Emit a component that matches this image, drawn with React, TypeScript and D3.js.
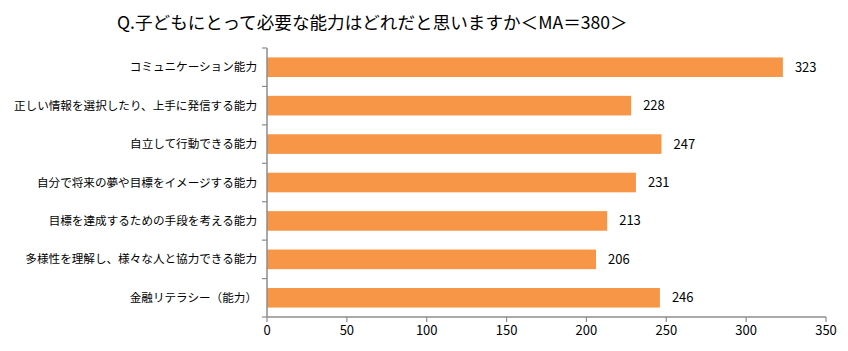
import React from "react";
import * as d3 from "d3";

const categories = [
  "コミュニケーション能力",
  "正しい情報を選択したり、上手に発信する能力",
  "自立して行動できる能力",
  "自分で将来の夢や目標をイメージする能力",
  "目標を達成するための手段を考える能力",
  "多様性を理解し、様々な人と協力できる能力",
  "金融リテラシー（能力）",
];
const values = [323, 228, 247, 231, 213, 206, 246];
const xTicks = [0, 50, 100, 150, 200, 250, 300, 350];
const title = "Q.子どもにとって必要な能力はどれだと思いますか＜MA＝380＞";

const W = 848;
const H = 351;
const left = 267;
const right = 826;
const top = 48;
const bottom = 317;
const font = "'Noto Sans CJK JP', 'Noto Sans', sans-serif";

export default function App() {
  const x = d3.scaleLinear().domain([0, 350]).range([left, right]);
  const y = d3
    .scaleBand<string>()
    .domain(categories)
    .range([top, bottom])
    .paddingInner(0.49)
    .paddingOuter(0.245);
  const band = (bottom - top) / categories.length;
  const axisColor = "#8c8c8c";
  return (
    <svg
      width={W}
      height={H}
      style={{ position: "absolute", left: 0, top: 0, background: "#fff" }}
      fontFamily={font}
    >
      <text x={117} y={29} fontSize={17.6} fill="#000">
        {title}
      </text>
      {categories.map((c, i) => (
        <g key={c}>
          <rect
            x={x(0)}
            y={y(c)!}
            width={x(values[i]) - x(0)}
            height={y.bandwidth()}
            fill="#F79646"
          />
          <text
            x={x(values[i]) + 12}
            y={y(c)! + y.bandwidth() / 2}
            dy="0.35em"
            fontSize={13}
            fill="#000"
          >
            {values[i]}
          </text>
          <text
            x={257}
            y={y(c)! + y.bandwidth() / 2}
            dy="0.35em"
            textAnchor="end"
            fontSize={11.6}
            fill="#000"
          >
            {c}
          </text>
        </g>
      ))}
      <line x1={left} x2={left} y1={top} y2={bottom} stroke={axisColor} strokeWidth={1.5} />
      {d3.range(categories.length + 1).map((i) => (
        <line
          key={i}
          x1={left - 5}
          x2={left}
          y1={top + i * band}
          y2={top + i * band}
          stroke={axisColor}
          strokeWidth={1.2}
        />
      ))}
      <line x1={left} x2={right} y1={bottom} y2={bottom} stroke={axisColor} strokeWidth={1.5} />
      {xTicks.map((t) => (
        <g key={t}>
          <line x1={x(t)} x2={x(t)} y1={bottom} y2={bottom + 5} stroke={axisColor} strokeWidth={1.2} />
          <text x={x(t)} y={335} textAnchor="middle" fontSize={13} fill="#000">
            {t}
          </text>
        </g>
      ))}
    </svg>
  );
}
